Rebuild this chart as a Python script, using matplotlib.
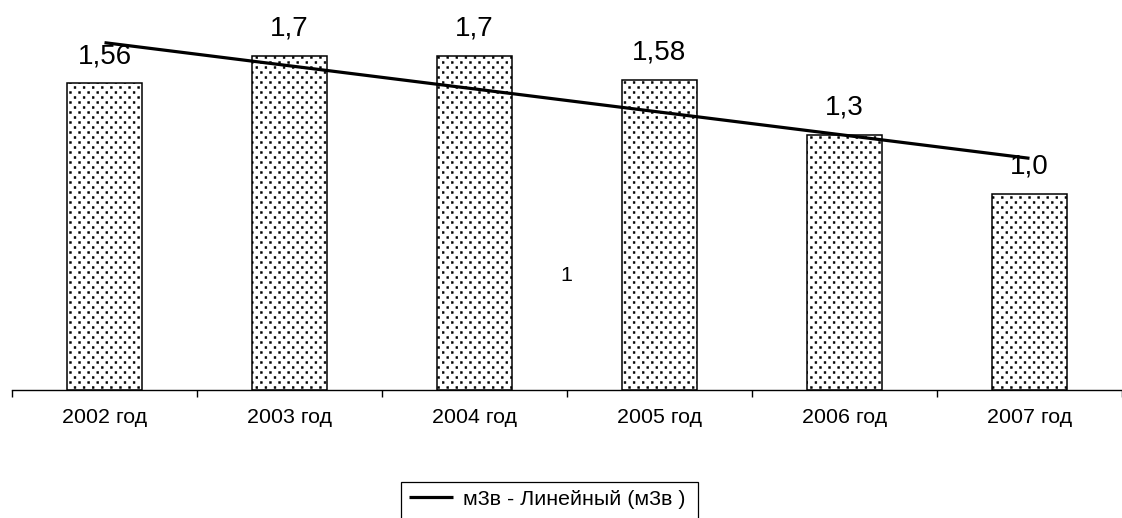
import numpy as np
import matplotlib
matplotlib.use("Agg")
import matplotlib.pyplot as plt
import matplotlib.hatch as mhatch
from matplotlib.path import Path
from matplotlib.patches import Rectangle

categories = ["2002 год", "2003 год", "2004 год", "2005 год", "2006 год", "2007 год"]
values = [1.56, 1.7, 1.7, 1.58, 1.3, 1.0]
value_labels = ["1,56", "1,7", "1,7", "1,58", "1,3", "1,0"]
legend_label = "м3в - Линейный (м3в )"
stray_text = "1"


# staggered square-dot fill pattern (like the office "dotted" fill)
class CheckerDots(mhatch.HatchPatternBase):
    nx, ny, size = 22, 20, 0.018

    def __init__(self, hatch, density):
        self.on = hatch.count('.') > 0
        self.cells = [(c, r) for r in range(self.ny) for c in range(self.nx)
                      if (r + c) % 2 == 0] if self.on else []
        self.num_vertices = 5 * len(self.cells)

    def set_vertices_and_codes(self, vertices, codes):
        sq = np.array([[0, 0], [1, 0], [1, 1], [0, 1], [0, 0]], float) - 0.5
        sq *= self.size
        cd = [Path.MOVETO, Path.LINETO, Path.LINETO, Path.LINETO, Path.CLOSEPOLY]
        vs, cs = [], []
        for c, r in self.cells:
            vs.append(sq + [(c + 0.5) / self.nx, (r + 0.5) / self.ny])
            cs.extend(cd)
        vertices[:] = np.concatenate(vs)
        codes[:] = cs


try:
    mhatch._hatch_types = [CheckerDots if t is mhatch.SmallFilledCircles else t
                           for t in mhatch._hatch_types]
except Exception:
    pass

plt.rcParams['font.family'] = ['Liberation Sans', 'DejaVu Sans']
plt.rcParams['hatch.linewidth'] = 0.4
plt.rcParams['hatch.color'] = 'black'

W, H = 1122, 518
fig = plt.figure(figsize=(W / 100, H / 100), dpi=100)
ax_left, ax_right, ax_bottom, ax_top = 12, 1122, 390, 0
ax = fig.add_axes([ax_left / W, (H - ax_bottom) / H, (ax_right - ax_left) / W, (ax_bottom - ax_top) / H])

x = np.arange(len(categories))
px_per_cat = 186.6
px_per_unit = 196.5
small_fs = 15.4

ax.bar(x, values, width=0.405, facecolor='white', edgecolor='black', linewidth=1.1, hatch='.')

# linear trend
coef = np.polyfit(x, values, 1)
trend = np.polyval(coef, x)
line, = ax.plot(x, trend, color='black', linewidth=2.3, solid_capstyle='butt')

for xi, v, lab in zip(x, values, value_labels):
    ax.annotate(lab, (xi, v), xytext=(0, 14.4), textcoords='offset points',
                ha='center', va='baseline', fontsize=20)

ax.text(2.495, 0.555, stray_text, ha='center', va='baseline', fontsize=small_fs)

ax.set_xlim(-0.5, -0.5 + (ax_right - ax_left) / px_per_cat)
ax.set_ylim(0, (ax_bottom - ax_top) / px_per_unit)

for s in ['top', 'right', 'left']:
    ax.spines[s].set_visible(False)
ax.spines['bottom'].set_linewidth(1.0)
ax.set_yticks([])
ax.set_xticks(x)
ax.set_xticklabels(categories, fontsize=small_fs)
ax.set_xticks(np.arange(-0.5, len(categories), 1.0), minor=True)
ax.tick_params(axis='x', which='major', length=0, pad=13)
ax.tick_params(axis='x', which='minor', length=5, width=1.0, direction='out')

# legend
lx0, ly0, lx1, ly1 = 401, 481.7, 698, 540
fig.patches.append(Rectangle((lx0 / W, (H - ly1) / H), (lx1 - lx0) / W, (ly1 - ly0) / H,
                             transform=fig.transFigure, facecolor='white', edgecolor='black',
                             linewidth=0.9, zorder=1))
leg = fig.legend([line], [legend_label], loc='upper left',
                 bbox_to_anchor=(lx0 / W, (H - ly0) / H), borderaxespad=0,
                 frameon=False, fontsize=small_fs, handlelength=31.7 / small_fs,
                 handletextpad=7.2 / small_fs, borderpad=5.76 / small_fs)

fig.savefig("out.png", dpi=100)
